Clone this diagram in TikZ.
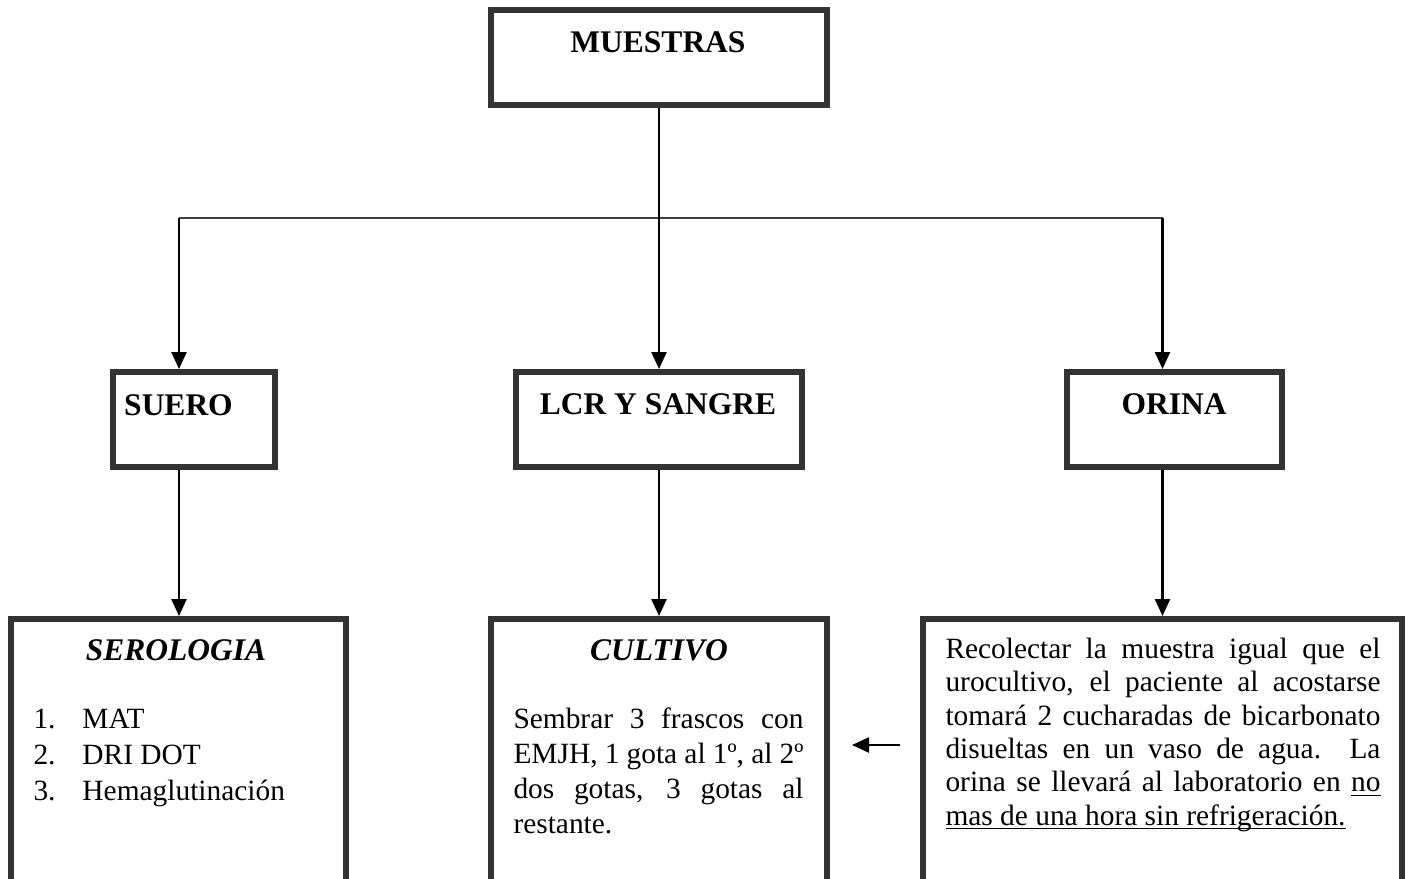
\documentclass[tikz,border=0pt]{standalone}
\usepackage{fontspec}
\setmainfont{Liberation Serif}
\usepackage{tikz}
\usetikzlibrary{arrows.meta, backgrounds}
\definecolor{boxgray}{RGB}{51,51,51}
\newlength{\cultw}\setlength{\cultw}{116pt}
\newlength{\orinw}\setlength{\orinw}{174pt}
% one justified line of a box text
\newcommand{\jline}[2]{\leavevmode\hbox to #1{\spaceskip=0pt\xspaceskip=0pt\relax #2}\\}
% underline drawn just under the baseline
\newcommand{\ulinetxt}[1]{\leavevmode\setbox0\hbox{\spaceskip=0pt\xspaceskip=0pt\relax #1}\rlap{\rule[-1.6pt]{\wd0}{0.55pt}}\box0}

\begin{document}
\begin{tikzpicture}[x=0.4pt, y=-0.4pt, >={Triangle[length=6.8pt,width=6pt]},
  box/.style={draw=boxgray, line width=2.4pt, fill=white, inner sep=0pt},
  smallbox/.style={box, minimum height=38pt},
  bigbox/.style={box, minimum height=113.6pt, anchor=north},
  head/.style={font=\fontsize{12.6}{15}\selectfont\bfseries, anchor=base, inner sep=0pt},
  subhead/.style={head, font=\fontsize{12.6}{15}\selectfont\bfseries\itshape},
  body/.style={anchor=north west, inner sep=0pt, align=left},
  link/.style={line width=1pt, black},
  bus/.style={line width=0.6pt, black!75},
]
\useasboundingbox (0,0) rectangle (1413,879);
\clip (0,0) rectangle (1413,879);

% Boxes
\node[smallbox, minimum width=134.4pt] (muestras) at (659,57.5) {};
\node[smallbox, minimum width=64.8pt] (suero) at (194,419.5) {};
\node[smallbox, minimum width=114.4pt] (lcr) at (659,419.5) {};
\node[smallbox, minimum width=86pt] (orina) at (1174.5,419.5) {};
\node[bigbox, minimum width=134pt] (serologia) at (178.5,616) {};
\node[bigbox, minimum width=134.4pt] (cultivo) at (659,616) {};
\node[bigbox, minimum width=191.6pt] (recoleccion) at (1162.5,616) {};

% Titles
\node[head] (muestras-t) at (658,53) {MUESTRAS};
\node[head] (suero-t) at (178.5,415) {SUERO};
\node[head] (lcr-t) at (658,414) {LCR Y SANGRE};
\node[head] (orina-t) at (1174,414) {ORINA};
\node[subhead] (serologia-t) at (176,660) {SEROLOGIA};
\node[subhead] (cultivo-t) at (659,660) {CULTIVO};

% Box texts
\node[body, font=\fontsize{11.76}{14.4}\selectfont] (pruebas) at (33,702.8)
  {\strut\makebox[19.6pt][l]{1.}MAT\\
   \makebox[19.6pt][l]{2.}DRI DOT\\
   \makebox[19.6pt][l]{3.}Hemaglutinación};
\node[body, text width=\cultw, font=\fontsize{11.76}{14}\selectfont] (siembra) at (513,703.5)
  {\strut\jline{\cultw}{Sembrar 3 frascos con}%
   \jline{\cultw}{EMJH, 1 gota al 1º, al 2º}%
   \jline{\cultw}{dos gotas, 3 gotas al}%
   restante.};
\node[body, text width=\orinw, font=\fontsize{11.76}{13.36}\selectfont] (instrucciones) at (945,634.5)
  {\strut\jline{\orinw}{Recolectar la muestra igual que el}%
   \jline{\orinw}{urocultivo, el paciente al acostarse}%
   \jline{\orinw}{tomará 2 cucharadas de bicarbonato}%
   \jline{\orinw}{disueltas en un vaso de agua.\ \ La}%
   \jline{\orinw}{orina se llevará al laboratorio en \ulinetxt{no}}%
   \ulinetxt{mas de una hora sin refrigeración.}};

% Connectors
\coordinate (busL) at (179,218);
\coordinate (busR) at (1162.5,218);
\coordinate (flechaR) at (900,745);
\coordinate (flechaL) at (852,745);
\begin{scope}[on background layer]
\draw[bus] (busL) -- (busR);
\draw[link, ->] (muestras) -- (lcr);
\draw[link, ->] (busL) -- (busL |- suero.north);
\draw[link, ->] (busR) -- (busR |- orina.north);
\draw[link, ->] (busL |- suero.south) -- (busL |- serologia.north);
\draw[link, ->] (lcr) -- (cultivo);
\draw[link, ->] (busR |- orina.south) -- (busR |- recoleccion.north);
\end{scope}
\draw[link, ->] (flechaR) -- (flechaL);

\end{tikzpicture}
\end{document}
